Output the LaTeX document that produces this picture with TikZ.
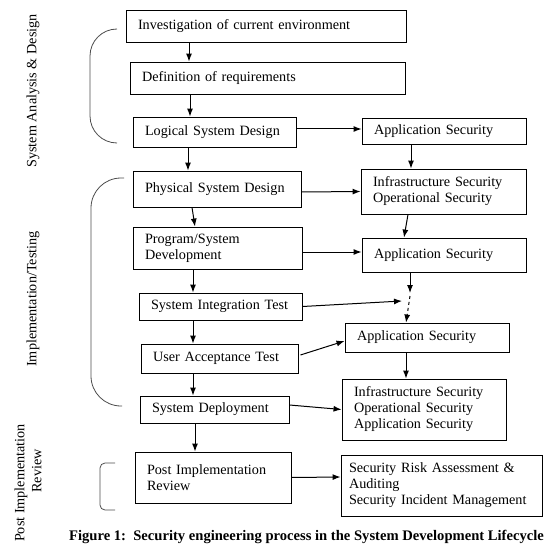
\documentclass[tikz,border=0pt]{standalone}
\usepackage{fontspec}
\setmainfont{Liberation Serif}
\usetikzlibrary{arrows.meta}

\tikzset{
  box/.style={draw, line width=0.9pt, align=left, inner xsep=12pt, inner ysep=2pt,
    font=\fontsize{14.2}{16}\selectfont},
  brace/.style={draw=black!70, line width=0.8pt},
  phase/.style={rotate=90, align=center, font=\fontsize{14.2}{17}\selectfont}
}

\begin{document}
\begin{tikzpicture}[x=1pt, y=-1pt, >={Latex[length=8pt,width=6pt]}, line width=1pt]
  \useasboundingbox (0,0) rectangle (544,548);

  % left column: development stages
  \node [box, text width=256pt, minimum height=32pt] (inv) at (266,26) {Investigation of current environment};
  \node [box, text width=251pt, minimum height=32pt] (req) at (267.5,78) {Definition of requirements};
  \node [box, text width=139pt, minimum height=30pt] (lsd) at (214.5,132) {Logical System Design};
  \node [box, text width=144pt, minimum height=36pt] (psd) at (217,189) {Physical System Design};
  \node [box, text width=145pt, minimum height=42pt] (dev) at (217.5,248) {Program/System\\Development};
  \node [box, text width=139pt, minimum height=27pt] (sit) at (220.5,306.5) {System Integration Test};
  \node [box, text width=133pt, minimum height=29pt] (uat) at (219.5,358.5) {User Acceptance Test};
  \node [box, text width=125pt, minimum height=27pt] (dep) at (214.5,409.5) {System Deployment};
  \node [box, text width=132pt, minimum height=51pt] (pir) at (213,477.5) {Post Implementation\\Review\\[4pt]};

  % right column: security activities
  \node [box, text width=140pt, minimum height=26pt] (as_1) at (444,131) {Application Security};
  \node [box, text width=141pt, minimum height=45pt] (ios) at (443.5,191.5) {Infrastructure Security\\Operational Security};
  \node [box, text width=140pt, minimum height=34pt] (as_2) at (444,255) {Application Security};
  \node [box, text width=140pt, minimum height=29pt] (as_3) at (427,337.5) {Application Security};
  \node [box, text width=140pt, minimum height=61pt] (ioa) at (424,409.5) {Infrastructure Security\\Operational Security\\Application Security};
  \node [box, inner xsep=8pt, text width=185pt, minimum height=61pt] (risk) at (441.5,485.5) {Security Risk Assessment \&\\Auditing\\Security Incident Management};
  \coordinate (junc) at (410,296);

  % phases
  \node [phase] (ph_1) at (33,91) {System Analysis \& Design};
  \node [phase] (ph_2) at (33,299) {Implementation/Testing};
  \node [phase] (ph_3) at (28,483) {Post Implementation\\\hspace*{24pt}Review};
  \draw [brace, rounded corners=27pt] (117,29) -- (90,29) -- (90,143) -- (117,143);
  \draw [brace, rounded corners=30pt] (124,178) -- (91,178) -- (91,406) -- (122,406);
  \draw [brace, rounded corners=5pt] (115,463) -- (100,463) -- (100,510) -- (115,510);

  \path[->]
    ([xshift=-77pt]inv.south) edge ([xshift=-78.5pt]req.north)
    ([xshift=-77.5pt]req.south) edge ([xshift=-24.5pt]lsd.north)
    ([xshift=-26.5pt]lsd.south) edge ([xshift=-29pt]psd.north)
    ([yshift=3pt]lsd.east) edge ([yshift=2pt]as_1.west)
    ([xshift=-33pt]as_1.south) edge ([xshift=-32.5pt]ios.north)
    ([yshift=-3pt]psd.east) edge (ios.west)
    ([xshift=-35.5pt]ios.south) edge ([xshift=-40pt]as_2.north)
    ([xshift=-25pt]psd.south) edge ([xshift=-22.5pt]dev.north)
    ([yshift=-4pt]dev.east) edge ([yshift=3pt]as_2.west)
    ([xshift=-24.5pt]dev.south) edge ([xshift=-27.5pt]sit.north)
    ([xshift=-34pt]as_2.south) edge ([yshift=3pt]junc)
    (sit.east) edge ([xshift=-8pt,yshift=-5pt]junc)
    (junc) edge [dashed] ([xshift=-21pt]as_3.north)
    ([xshift=-27.5pt]sit.south) edge ([xshift=-26.5pt]uat.north)
    ([xshift=2pt,yshift=3.5pt]uat.east) edge ([yshift=-3.5pt]as_3.west)
    ([xshift=-21pt]as_3.south) edge ([xshift=-18pt]ioa.north)
    ([xshift=-26.5pt]uat.south) edge ([xshift=-21.5pt]dep.north)
    ([yshift=4.5pt]dep.east) edge (ioa.west)
    ([xshift=-19.5pt]dep.south) edge ([xshift=-18pt]pir.north)
    (pir.east) edge ([yshift=8.5pt]risk.west);

  \node [font=\fontsize{14.6}{16}\selectfont\bfseries] (caption) at (306.5,537)
    {Figure 1:\ \ Security engineering process in the System Development Lifecycle};
\end{tikzpicture}
\end{document}
